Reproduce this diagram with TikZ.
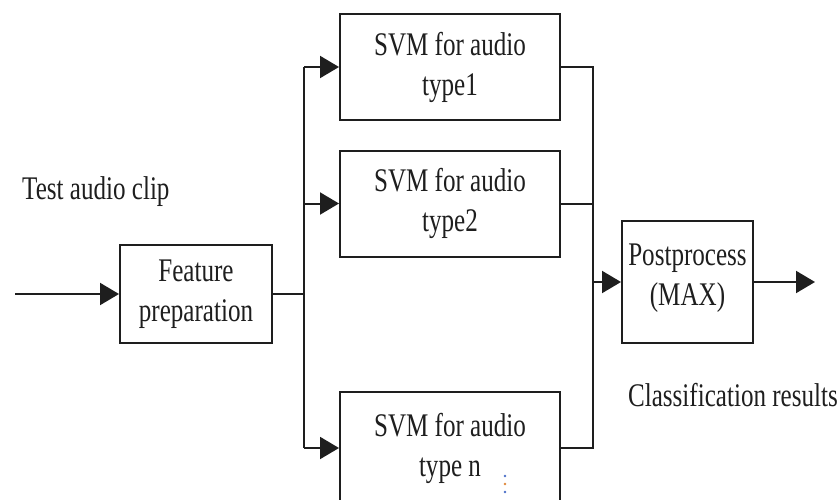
\documentclass[tikz,border=0pt]{standalone}
\usepackage{fontspec}
\setmainfont{Liberation Serif}[FakeStretch=0.76]
\usetikzlibrary{arrows.meta}
\definecolor{ink}{HTML}{1E1E1E}
\definecolor{dotA}{HTML}{4A6FC8}
\definecolor{dotB}{HTML}{E0873A}
\tikzset{
  blk/.style={draw=ink, line width=2pt, fill=white, align=center, inner sep=0pt,
    font=\fontsize{33}{40}\selectfont, text=ink},
  svmbox/.style={blk, minimum width=220pt, minimum height=106pt},
  lbl/.style={font=\fontsize{33}{40}\selectfont, text=ink, inner sep=0pt},
  wire/.style={draw=ink, line width=2pt},
  arr/.style={wire, -{Triangle[length=19pt,width=22pt]}},
}
\begin{document}
\begin{tikzpicture}[x=1pt,y=-1pt]
\useasboundingbox (0,0) rectangle (840,500);
\clip (0,0) rectangle (840,500);
% nodes
\node[blk, minimum width=152pt, minimum height=98pt] (feat) at (196,294) {Feature\\preparation};
\node[svmbox] (svm1) at (450,67) {SVM for audio\\type1};
\node[svmbox] (svm2) at (450,203.5) {SVM for audio\\type2};
\node[svmbox, minimum height=112pt] (svmn) at (450,448) {SVM for audio\\type n};
\node[blk, minimum width=131pt, minimum height=122pt] (post) at (687.5,282) {};
\node[lbl, align=center] (posttxt) at ([yshift=4pt]post.center) {Postprocess\\(MAX)};
\node[lbl, anchor=base west] (test) at (22,199) {Test audio clip};
\node[lbl, anchor=base east] (cls) at (838,406) {Classification results};
% junction coordinates
\coordinate (in) at (15,294);
\coordinate (jL) at (304,294);
\coordinate (jR) at (593,282);
\coordinate (out) at (815,282);
% connectors
\draw[arr] (in) -- (feat.west);
\draw[wire] (feat.east) -- (jL);
\draw[wire] (jL |- svm1.west) -- (jL |- svmn.west);
\draw[arr] (jL |- svm1.west) -- (svm1.west);
\draw[arr] (jL |- svm2.west) -- (svm2.west);
\draw[arr] (jL |- svmn.west) -- (svmn.west);
\draw[wire] (svm1.east) -- (jR |- svm1.east) -- (jR |- svmn.east) -- (svmn.east);
\draw[wire] (svm2.east) -- (jR |- svm2.east);
\draw[arr] (jR) -- (jR -| post.west);
\draw[arr] (jR -| post.east) -- (out);
% small dots artifact
\fill[dotA] (505,476) circle (1.3pt);
\fill[dotB] (505,484) circle (1.3pt);
\fill[dotA] (505,492) circle (1.3pt);
\end{tikzpicture}
\end{document}
